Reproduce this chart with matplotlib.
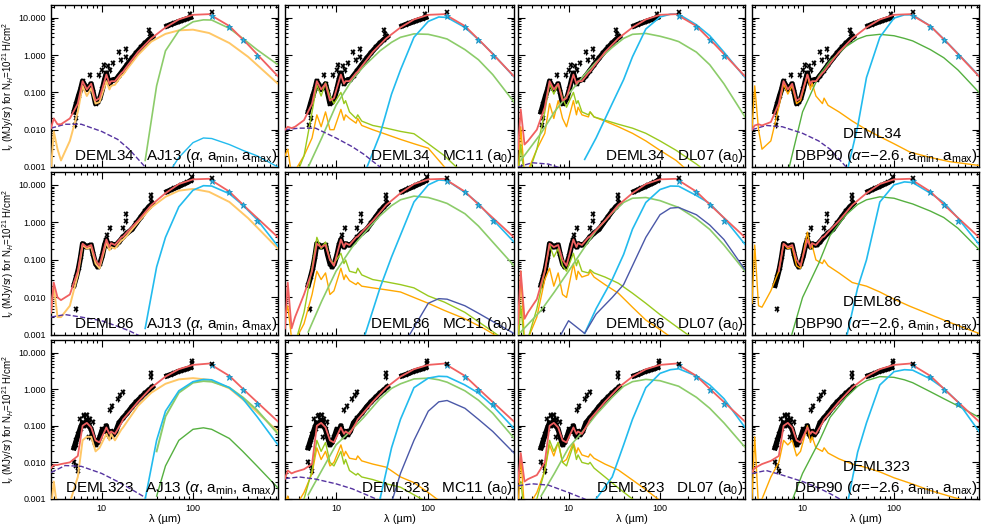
import numpy as np
import matplotlib
matplotlib.use('Agg')
import matplotlib.pyplot as plt
from matplotlib.ticker import LogLocator, NullFormatter

plt.rcParams['font.family'] = ['Liberation Sans', 'DejaVu Sans']
plt.rcParams['mathtext.fontset'] = 'custom'
plt.rcParams['mathtext.rm'] = 'Liberation Sans'
plt.rcParams['mathtext.it'] = 'Liberation Sans:italic'

nan = np.nan

# wavelength grids (micron)
LAM_MIR = [2.8, 3.0, 3.3, 3.6, 4.5, 5.5, 6.2, 6.9, 7.7, 8.6, 9.5, 11.3, 12.2, 12.7, 14, 16.5,
           17.2, 19, 25, 35, 50, 70, 100, 150, 250, 400, 850]
LAM_FIR = [3, 5, 7, 10, 15, 20, 30, 40, 50, 70, 100, 130, 160, 250, 350, 500, 850]
LAM_STAR = [2.8, 4, 6, 10, 15, 20, 30]
OBS_LAM = [5.0, 5.3, 5.6, 5.9, 6.2, 6.5, 6.9, 7.3, 7.7, 8.1, 8.6, 9.1, 9.6, 10.2, 10.8, 11.3, 11.8,
           12.3, 12.8, 13.5, 14.3, 15.5, 17, 19, 21.5, 24, 27, 30, 33, 36]
SED_LAM = [52, 57, 62, 68, 74, 80, 87, 94]
PHOT_LAM = [160, 250, 350, 500]

objects = ['DEML34', 'DEML86', 'DEML323']
models = ['AJ13', 'MC11', 'DL07', 'DBP90']

# ---------------- observations ----------------
obs1 = [0.03, 0.05, 0.08, 0.12, 0.2, 0.16, 0.12, 0.14, 0.17, 0.1, 0.05, 0.055, 0.07, 0.12, 0.22, 0.33,
        0.22, 0.17, 0.2, 0.22, 0.22, 0.28, 0.38, 0.55, 0.82, 1.15, 1.6, 2.1, 2.6, 3.1]
obs2 = [0.021, 0.035, 0.06, 0.12, 0.27, 0.25, 0.22, 0.24, 0.25, 0.14, 0.08, 0.065, 0.08, 0.13, 0.25,
        0.35, 0.25, 0.22, 0.27, 0.25, 0.25, 0.3, 0.4, 0.52, 0.65, 0.95, 1.4, 2.0, 2.6, 3.2]
obs3 = [0.025, 0.04, 0.06, 0.09, 0.12, 0.1, 0.14, 0.1, 0.08, 0.05, 0.03, 0.035, 0.05, 0.08, 0.07, 0.1,
        0.06, 0.05, 0.07, 0.057, 0.07, 0.12, 0.16, 0.22, 0.33, 0.45, 0.6, 0.78, 0.95, 1.15]
sed1 = [6.0, 6.6, 7.1, 7.7, 8.3, 8.9, 9.5, 10.2]
sed2 = [6.6, 7.3, 8.0, 8.8, 9.7, 10.6, 11.6, 13.0]
sed3 = [2.3, 2.5, 2.7, 3.0, 3.2, 3.4, 3.6, 3.9]
sc1_lam = [5.1, 5.3, 7.4, 9.3, 10.2, 10.6, 11.8, 12.4, 13.5, 15.4, 16.5, 18.3, 18.3, 33, 34, 93]
sc1 = [0.013, 0.02, 0.3, 0.3, 0.4, 0.55, 0.5, 0.4, 0.6, 1.24, 0.74, 1.5, 0.9, 4.6, 3.7, 13]
sc2_lam = [5.2, 11.5, 12.4, 17, 18.5, 18.5, 35, 35, 98]
sc2 = [0.005, 0.45, 0.69, 0.7, 1.7, 1.06, 5.4, 4.2, 16]
sc3_lam = [5.0, 5.2, 5.3, 5.5, 5.5, 5.8, 6.0, 6.4, 6.5, 7.0, 7.2, 7.5, 8.0, 12.3, 13, 15, 16, 17, 35, 35,
           97, 97]
sc3 = [0.01, 0.03, 0.008, 0.006, 0.06, 0.15, 0.08, 0.18, 0.2, 0.2, 0.05, 0.15, 0.13, 0.27, 0.35, 0.55,
       0.7, 0.82, 2.8, 2.2, 5.1, 6.0]
phot1 = [11.5, 5.7, 2.5, 0.97]
phot2 = [13, 6.3, 2.95, 1.1]
phot3 = [4.5, 2.1, 0.95, 0.4]
m160 = [14.0, 15.0, 5.0]

# ---------------- total model (red) ----------------
red_row1 = [0.2, 0.12, 0.17, 0.06, 0.07, 0.3, 0.17, 0.2, 0.2, 0.33, 0.36, 0.5, 1.2, 2.8, 5.5, 9.0, 12.0,
            12.5, 6.0, 1.9, 0.27]
red_row2 = [0.27, 0.22, 0.25, 0.1, 0.07, 0.35, 0.22, 0.28, 0.25, 0.4, 0.42, 0.55, 1.1, 2.9, 6.0, 10.5,
            14.0, 14.5, 6.6, 2.2, 0.4]
red_row3 = [0.1, 0.12, 0.09, 0.04, 0.035, 0.09, 0.06, 0.07, 0.06, 0.12, 0.15, 0.2, 0.45, 1.1, 2.2, 3.5,
            4.6, 5.0, 2.3, 0.75, 0.13]
red_left = {
    (0, 0): [0.011, 0.02, 0.014, 0.014, 0.02, 0.05],
    (0, 1): [0.010, 0.012, 0.011, 0.012, 0.018, 0.05],
    (0, 2): [0.003, 0.035, 0.004, 0.005, 0.01, 0.04],
    (0, 3): [0.01, 0.013, 0.014, 0.013, 0.016, 0.05],
    (1, 0): [0.004, 0.025, 0.01, 0.0085, 0.012, 0.05],
    (1, 1): [0.0015, 0.025, 0.0015, 0.003, 0.012, 0.05],
    (1, 2): [0.002, 0.05, 0.0027, 0.004, 0.009, 0.05],
    (1, 3): [nan, nan, nan, nan, nan, 0.05],
    (2, 0): [0.007, 0.0085, 0.0085, 0.009, 0.01, 0.015],
    (2, 1): [0.0036, 0.006, 0.005, 0.0055, 0.0065, 0.009],
    (2, 2): [0.0029, 0.018, 0.003, 0.0035, 0.0045, 0.01],
    (2, 3): [0.0055, 0.007, 0.008, 0.009, 0.011, 0.015],
}

# ---------------- small grains (orange, LAM_MIR) ----------------
org_11 = [0.0008, 0.009, 0.003, 0.0015, 0.005, 0.03, 0.15, 0.08, 0.13, 0.05, 0.055, 0.2, 0.12, 0.15, 0.16,
          0.28, 0.3, 0.42, 1.0, 2.3, 3.7, 4.6, 4.8, 3.9, 2.1, 0.9, 0.17]
org_12 = [0.002, 0.003, 0.0006, 0.0008, 0.002, 0.006, 0.025, 0.012, 0.03, 0.01, 0.01, 0.035, 0.018, 0.025,
          0.02, 0.015, 0.02, 0.013, 0.01, 0.0075, 0.0055, 0.0042, 0.0032, 0.001, 0.0003, nan, nan]
org_13 = [0.0005, 0.012, 0.0006, 0.0008, 0.003, 0.008, 0.05, 0.02, 0.06, 0.02, 0.012, 0.06, 0.025, 0.04,
          0.025, 0.022, 0.03, 0.022, 0.017, 0.012, 0.008, 0.005, 0.0028, 0.0015, 0.0005, nan, nan]
org_14 = [0.01, 0.15, 0.01, 0.003, 0.005, 0.04, 0.17, 0.09, 0.15, 0.05, 0.06, 0.3, 0.12, 0.18, 0.08, 0.05,
          0.07, 0.045, 0.03, 0.017, 0.01, 0.0065, 0.0042, 0.0025, 0.0018, 0.0014, 0.0011]
org_21 = [0.004, 0.02, 0.003, 0.003, 0.006, 0.04, 0.25, 0.2, 0.22, 0.08, 0.06, 0.3, 0.18, 0.22, 0.2, 0.33,
          0.35, 0.45, 1.0, 2.5, 4.8, 7.0, 7.8, 6.5, 3.5, 1.3, 0.2]
org_22 = [0.003, 0.006, 0.0008, 0.0007, 0.002, 0.012, 0.05, 0.03, 0.045, 0.012, 0.015, 0.06, 0.03, 0.04,
          0.028, 0.022, 0.025, 0.02, 0.018, 0.016, 0.014, 0.01, 0.007, 0.0045, 0.0027, 0.0015, 0.0005]
org_23 = [0.0005, 0.05, 0.0006, 0.0008, 0.003, 0.03, 0.06, 0.02, 0.045, 0.012, 0.01, 0.08, 0.03, 0.05,
          0.035, 0.04, 0.05, 0.035, 0.022, 0.013, 0.0055, 0.0025, 0.0014, 0.0007, nan, nan, nan]
org_24 = [0.007, 0.25, 0.006, 0.0055, 0.015, 0.05, 0.27, 0.2, 0.22, 0.07, 0.06, 0.55, 0.2, 0.25, 0.1, 0.08,
          0.1, 0.07, 0.045, 0.025, 0.02, 0.014, 0.009, 0.0058, 0.0035, 0.0022, 0.0011]
org_31 = [0.0005, 0.003, 0.0005, 0.0005, 0.0008, 0.004, 0.04, 0.05, 0.05, 0.02, 0.025, 0.06, 0.04, 0.06,
          0.04, 0.08, 0.09, 0.13, 0.35, 0.8, 1.4, 1.85, 2.0, 1.8, 1.05, 0.4, 0.07]
org_32 = [0.0008, 0.0012, 0.0005, 0.0006, 0.0015, 0.005, 0.025, 0.012, 0.02, 0.008, 0.01, 0.03, 0.015, 0.02,
          0.013, 0.012, 0.015, 0.011, 0.009, 0.0074, 0.004, 0.0028, 0.0015, 0.0007, nan, nan, nan]
org_33 = [0.0005, 0.015, 0.0005, 0.0006, 0.0015, 0.006, 0.03, 0.015, 0.035, 0.01, 0.012, 0.035, 0.018,
          0.025, 0.016, 0.014, 0.017, 0.013, 0.009, 0.0062, 0.0033, 0.0018, 0.0009, nan, nan, nan, nan]
org_34 = [0.001, 0.05, 0.0006, 0.001, 0.004, 0.01, 0.04, 0.03, 0.04, 0.015, 0.02, 0.1, 0.035, 0.05, 0.025,
          0.02, 0.025, 0.018, 0.0125, 0.009, 0.0072, 0.0055, 0.0038, 0.0027, 0.0017, 0.0012, 0.0007]

# ---------------- second small-grain component (yellow-green, LAM_MIR) ----------------
ygr_12 = [nan, 0.0004, 0.0005, 0.0005, 0.002, 0.03, 0.16, 0.08, 0.18, 0.08, 0.05, 0.1, 0.05, 0.06, 0.03,
          0.02, 0.025, 0.017, 0.013, 0.011, 0.009, 0.0078, 0.0042, 0.002, 0.0006, nan, nan]
ygr_13 = [0.0004, 0.004, 0.0005, 0.0006, 0.003, 0.03, 0.17, 0.09, 0.17, 0.07, 0.04, 0.1, 0.05, 0.06, 0.03,
          0.025, 0.03, 0.022, 0.018, 0.014, 0.011, 0.008, 0.005, 0.0028, 0.0012, 0.0005, nan]
ygr_22 = [0.0005, 0.0008, 0.0005, 0.0006, 0.004, 0.06, 0.4, 0.2, 0.3, 0.1, 0.08, 0.15, 0.08, 0.1, 0.05,
          0.045, 0.06, 0.04, 0.03, 0.026, 0.022, 0.018, 0.011, 0.0075, 0.004, 0.0018, 0.0005]
ygr_23 = [0.0005, 0.006, 0.0006, 0.0008, 0.005, 0.05, 0.25, 0.12, 0.2, 0.07, 0.05, 0.15, 0.07, 0.1, 0.05,
          0.045, 0.055, 0.045, 0.035, 0.024, 0.013, 0.007, 0.0035, 0.0017, 0.0007, nan, nan]
ygr_32 = [nan, 0.0004, 0.0004, 0.0005, 0.001, 0.006, 0.04, 0.02, 0.035, 0.01, 0.008, 0.02, 0.009, 0.012,
          0.006, 0.0045, 0.005, 0.004, 0.0034, 0.0026, 0.0021, 0.0013, 0.0008, nan, nan, nan, nan]
ygr_33 = [nan, 0.003, 0.0004, 0.0005, 0.001, 0.006, 0.04, 0.02, 0.035, 0.01, 0.008, 0.03, 0.012, 0.016,
          0.01, 0.009, 0.01, 0.007, 0.004, 0.002, 0.001, 0.0005, nan, nan, nan, nan, nan]

# ---------------- big grains (LAM_FIR) ----------------
grn_11 = [nan, nan, nan, nan, nan, nan, 0.0015, 0.15, 1.3, 4.5, 7.8, 8.8, 8.7, 5.2, 2.8, 1.4, 0.55]
grn_12 = [nan, 0.001, 0.006, 0.045, 0.22, 0.5, 1.3, 2.2, 3.0, 3.7, 3.6, 3.1, 2.7, 1.4, 0.75, 0.3, 0.055]
grn_13 = [0.0015, 0.008, 0.03, 0.09, 0.3, 0.65, 1.6, 2.8, 3.6, 3.8, 3.2, 2.7, 2.3, 1.2, 0.55, 0.17, 0.022]
grn_14 = [nan, nan, 0.0008, 0.03, 0.27, 0.7, 1.7, 2.7, 3.3, 3.6, 3.3, 2.8, 2.4, 1.4, 0.85, 0.4, 0.1]
grn_22 = [nan, 0.0012, 0.008, 0.05, 0.22, 0.5, 1.5, 2.8, 4.0, 5.0, 4.6, 3.8, 3.2, 1.7, 0.8, 0.3, 0.07]
grn_23 = [0.0012, 0.0045, 0.014, 0.05, 0.22, 0.6, 1.8, 3.4, 4.4, 4.6, 3.8, 3.0, 2.5, 1.25, 0.65, 0.25, 0.05]
grn_24 = [nan, nan, 0.0005, 0.01, 0.08, 0.45, 1.6, 3.0, 4.0, 4.8, 4.4, 3.6, 3.1, 2.0, 1.35, 0.7, 0.19]
grn_31 = [nan, nan, nan, nan, nan, nan, nan, 0.02, 0.18, 0.8, 1.5, 1.66, 1.6, 1.1, 0.6, 0.27, 0.06]
dgr_31 = [nan, nan, nan, nan, nan, nan, nan, 0.0012, 0.008, 0.04, 0.08, 0.088, 0.08, 0.045, 0.02, 0.008,
          0.002]
grn_32 = [nan, 0.0013, 0.006, 0.03, 0.08, 0.17, 0.55, 1.05, 1.4, 1.9, 2.0, 1.8, 1.55, 0.9, 0.5, 0.22, 0.046]
grn_33 = [nan, 0.0012, 0.005, 0.025, 0.08, 0.2, 0.6, 1.2, 1.6, 1.85, 1.7, 1.4, 1.2, 0.6, 0.3, 0.12, 0.026]
grn_34 = [nan, nan, 0.0005, 0.005, 0.035, 0.17, 0.6, 1.2, 1.7, 2.2, 2.1, 1.8, 1.5, 0.85, 0.55, 0.35, 0.17]

cyn_11 = [nan, nan, nan, nan, nan, nan, nan, nan, 0.0005, 0.0018, 0.0045, 0.006, 0.0058, 0.004, 0.0028,
          0.002, 0.001]
cyn_12 = [nan, nan, nan, nan, nan, 0.0006, 0.0075, 0.09, 0.4, 3.0, 8.0, 10.5, 10.2, 5.5, 2.6, 1.1, 0.26]
cyn_13 = [nan, nan, nan, nan, 0.0016, 0.006, 0.05, 0.22, 0.9, 5.0, 10.5, 12.5, 12.5, 6.5, 3.3, 1.2, 0.25]
cyn_14 = [nan, nan, nan, nan, nan, nan, 0.0006, 0.012, 0.25, 3.0, 9.8, 12, 12, 6.0, 2.7, 1.1, 0.28]
cyn_21 = [nan, nan, nan, nan, nan, nan, 0.0015, 0.065, 0.4, 2.6, 7.2, 9.5, 9.3, 5.8, 2.9, 1.2, 0.23]
cyn_22 = [nan, nan, nan, nan, nan, 0.0008, 0.018, 0.12, 0.46, 3.5, 10, 13.5, 13, 6.3, 3.2, 1.2, 0.3]
cyn_23 = [nan, nan, nan, nan, 0.0011, 0.005, 0.03, 0.14, 0.66, 3.4, 7.5, 9.3, 9.2, 5.2, 3.2, 1.3, 0.26]
cyn_24 = [nan, nan, nan, nan, nan, nan, 0.0008, 0.018, 0.1, 3.5, 10, 12, 11.5, 6.0, 3.4, 1.3, 0.26]
cyn_31 = [nan, nan, nan, nan, nan, nan, 0.001, 0.04, 0.25, 0.9, 1.6, 1.84, 1.8, 1.1, 0.55, 0.18, 0.03]
cyn_32 = [nan, nan, nan, nan, nan, nan, 0.001, 0.025, 0.15, 1.1, 2.0, 2.25, 2.2, 1.3, 0.78, 0.35, 0.085]
cyn_33 = [nan, nan, nan, nan, nan, 0.001, 0.004, 0.03, 0.15, 1.1, 2.7, 3.4, 3.6, 2.3, 1.3, 0.55, 0.09]
cyn_34 = [nan, nan, nan, nan, nan, nan, 0.0005, 0.019, 0.12, 1.3, 3.0, 3.4, 3.3, 1.9, 1.05, 0.45, 0.07]

blu_22 = [nan, nan, nan, nan, nan, nan, nan, nan, 0.0004, 0.0016, 0.007, 0.0093, 0.009, 0.006, 0.0038,
          0.0023, 0.0011]
blu_23 = [nan, nan, 0.0005, 0.0024, 0.0011, 0.0036, 0.01, 0.022, 0.07, 0.4, 1.6, 2.4, 2.5, 1.6, 0.85, 0.35,
          0.055]
blu_32 = [nan, nan, nan, nan, nan, nan, nan, 0.0008, 0.005, 0.04, 0.25, 0.45, 0.49, 0.3, 0.15, 0.07, 0.018]

# ---------------- stellar (purple dashed, LAM_STAR) ----------------
pur_11 = [0.011, 0.014, 0.014, 0.009, 0.0055, 0.003, 0.001]
pur_12 = [0.01, 0.011, 0.011, 0.006, 0.0035, 0.0022, 0.001]
pur_13 = [0.001, 0.0013, 0.0012, 0.0008, 0.0005, nan, nan]
pur_14 = [0.01, 0.013, 0.012, 0.008, 0.005, 0.003, 0.001]
pur_21 = [0.003, 0.0035, 0.003, 0.0024, 0.0017, 0.0013, 0.0008]
pur_31 = [0.0053, 0.0082, 0.0078, 0.005, 0.003, 0.002, 0.0011]
pur_32 = [0.0036, 0.004, 0.0035, 0.0026, 0.0019, 0.0014, 0.0009]
pur_33 = [0.0023, 0.0026, 0.0024, 0.0015, 0.001, 0.0007, nan]
pur_34 = [0.005, 0.006, 0.0045, 0.003, 0.002, 0.0014, 0.0008]

ORANGE = '#ffa800'
ORANGE_L = '#ffc766'
GREEN = '#8ccc6a'
GREEN_D = '#55b040'
CYAN = '#22bbee'
YGREEN = '#99c91e'
BLUE = '#4a58a8'
PURPLE = '#5533a0'
RED = '#f06060'

rows = [
    dict(obs=obs1, sed=sed1, sc_lam=sc1_lam, sc=sc1, phot=phot1, red=red_row1),
    dict(obs=obs2, sed=sed2, sc_lam=sc2_lam, sc=sc2, phot=phot2, red=red_row2),
    dict(obs=obs3, sed=sed3, sc_lam=sc3_lam, sc=sc3, phot=phot3, red=red_row3),
]

# which curves in which panel: (lam grid, values, colour, lw, style)
curves = {
    (0, 0): [(LAM_MIR, org_11, ORANGE_L, 1.4, '-'), (LAM_FIR, grn_11, GREEN, 1.2, '-'),
             (LAM_FIR, cyn_11, CYAN, 1.0, '-'), (LAM_STAR, pur_11, PURPLE, 1.0, '--')],
    (0, 1): [(LAM_MIR, org_12, ORANGE, 1.0, '-'), (LAM_MIR, ygr_12, YGREEN, 1.0, '-'),
             (LAM_FIR, grn_12, GREEN, 1.2, '-'), (LAM_FIR, cyn_12, CYAN, 1.2, '-'),
             (LAM_STAR, pur_12, PURPLE, 1.0, '--')],
    (0, 2): [(LAM_MIR, org_13, ORANGE, 1.0, '-'), (LAM_MIR, ygr_13, YGREEN, 1.0, '-'),
             (LAM_FIR, grn_13, GREEN, 1.2, '-'), (LAM_FIR, cyn_13, CYAN, 1.2, '-'),
             (LAM_STAR, pur_13, PURPLE, 1.0, '--')],
    (0, 3): [(LAM_MIR, org_14, ORANGE, 1.0, '-'), (LAM_FIR, grn_14, GREEN_D, 1.0, '-'),
             (LAM_FIR, cyn_14, CYAN, 1.2, '-'), (LAM_STAR, pur_14, PURPLE, 1.0, '--')],
    (1, 0): [(LAM_MIR, org_21, ORANGE_L, 1.4, '-'), (LAM_FIR, cyn_21, CYAN, 1.2, '-'),
             (LAM_STAR, pur_21, PURPLE, 1.0, '--')],
    (1, 1): [(LAM_MIR, org_22, ORANGE, 1.0, '-'), (LAM_MIR, ygr_22, YGREEN, 1.0, '-'),
             (LAM_FIR, grn_22, GREEN, 1.2, '-'), (LAM_FIR, cyn_22, CYAN, 1.2, '-'),
             (LAM_FIR, blu_22, BLUE, 1.0, '-')],
    (1, 2): [(LAM_MIR, org_23, ORANGE, 1.0, '-'), (LAM_MIR, ygr_23, YGREEN, 1.0, '-'),
             (LAM_FIR, grn_23, GREEN, 1.2, '-'), (LAM_FIR, cyn_23, CYAN, 1.2, '-'),
             (LAM_FIR, blu_23, BLUE, 1.0, '-')],
    (1, 3): [(LAM_MIR, org_24, ORANGE, 1.0, '-'), (LAM_FIR, grn_24, GREEN_D, 1.0, '-'),
             (LAM_FIR, cyn_24, CYAN, 1.2, '-')],
    (2, 0): [(LAM_MIR, org_31, ORANGE_L, 1.4, '-'), (LAM_FIR, grn_31, GREEN, 1.4, '-'),
             (LAM_FIR, cyn_31, CYAN, 1.2, '-'), (LAM_FIR, dgr_31, GREEN_D, 1.0, '-'),
             (LAM_STAR, pur_31, PURPLE, 1.0, '--')],
    (2, 1): [(LAM_MIR, org_32, ORANGE, 1.0, '-'), (LAM_MIR, ygr_32, YGREEN, 1.0, '-'),
             (LAM_FIR, grn_32, GREEN, 1.2, '-'), (LAM_FIR, cyn_32, CYAN, 1.2, '-'),
             (LAM_FIR, blu_32, BLUE, 1.0, '-'), (LAM_STAR, pur_32, PURPLE, 1.0, '--')],
    (2, 2): [(LAM_MIR, org_33, ORANGE, 1.0, '-'), (LAM_MIR, ygr_33, YGREEN, 1.0, '-'),
             (LAM_FIR, grn_33, GREEN, 1.2, '-'), (LAM_FIR, cyn_33, CYAN, 1.2, '-'),
             (LAM_STAR, pur_33, PURPLE, 1.0, '--')],
    (2, 3): [(LAM_MIR, org_34, ORANGE, 1.0, '-'), (LAM_FIR, grn_34, GREEN_D, 1.0, '-'),
             (LAM_FIR, cyn_34, CYAN, 1.2, '-'), (LAM_STAR, pur_34, PURPLE, 1.0, '--')],
}

labels = [r'AJ13 ($\alpha$, a$_{\rm min}$, a$_{\rm max}$)', r'MC11 (a$_0$)', r'DL07 (a$_0$)',
          r'DBP90 ($\alpha$=$-$2.6, a$_{\rm min}$, a$_{\rm max}$)']

W, H = 981, 529
cols_px = [(51, 278), (285, 514), (518, 745), (752, 979)]
rows_px = [(5, 167), (172, 335), (340, 499)]

fig = plt.figure(figsize=(W / 100, H / 100), dpi=100)

for r in range(3):
    d = rows[r]
    for c in range(4):
        x0, x1 = cols_px[c]
        y0, y1 = rows_px[r]
        ax = fig.add_axes([x0 / W, 1 - y1 / H, (x1 - x0) / W, (y1 - y0) / H])
        ax.set_xscale('log')
        ax.set_yscale('log')

        # observations
        ax.plot(OBS_LAM, d['obs'], color='k', lw=3.8, zorder=2)
        ax.plot(OBS_LAM, d['obs'], 'x', color='k', ms=3.5, mew=1.1, zorder=2)
        ax.plot(SED_LAM, d['sed'], color='k', lw=3.8, zorder=2)
        ax.plot(SED_LAM, d['sed'], 'x', color='k', ms=3.5, mew=1.1, zorder=2)
        ax.plot(d['sc_lam'], d['sc'], 'x', color='k', ms=3, mew=1.2, zorder=2)
        ax.plot(d['sc_lam'], d['sc'], '|', color='k', ms=5, mew=0.9, zorder=2)

        # models
        for lam, val, col, lw, ls in curves[(r, c)]:
            ax.plot(lam, val, color=col, lw=lw, ls=ls, zorder=3)
        red = red_left[(r, c)] + d['red']
        ax.plot(LAM_MIR, red, color=RED, lw=1.3, zorder=4)

        # photometry
        ax.plot(PHOT_LAM, d['phot'], '*', color=CYAN, ms=4.5, mec='#1a90c0', mew=0.6, zorder=5)
        ax.plot([160], [m160[r]], 'x', color='k', ms=3, mew=1.2, zorder=5)

        ax.set_xlim(2.8, 850)
        ax.set_ylim(0.001, 22)

        ax.tick_params(which='both', direction='in', top=True, right=True, width=0.8)
        ax.tick_params(which='major', length=5)
        ax.tick_params(which='minor', length=2.5)
        ax.set_yticks([0.001, 0.01, 0.1, 1, 10])
        ax.yaxis.set_minor_locator(LogLocator(base=10, subs=np.arange(2, 10)))
        ax.yaxis.set_minor_formatter(NullFormatter())
        ax.set_xticks([10, 100])
        ax.xaxis.set_minor_locator(LogLocator(base=10, subs=np.arange(2, 10)))
        ax.xaxis.set_minor_formatter(NullFormatter())
        if c == 0:
            ax.set_yticklabels(['0.001', '0.010', '0.100', '1.000', '10.000'], fontsize=6.5)
            ax.set_ylabel(r'I$_\nu$ (MJy/sr) for N$_H$=10$^{21}$ H/cm$^2$', fontsize=7, labelpad=2)
        else:
            ax.set_yticklabels([])
        if r == 2:
            ax.set_xticklabels(['10', '100'], fontsize=6.5)
            ax.set_xlabel('λ (µm)', fontsize=8, labelpad=1)
        else:
            ax.set_xticklabels([])
        for s in ax.spines.values():
            s.set_linewidth(1.0)

        if c < 3:
            ax.text(0.995, 0.015, objects[r] + '   ' + labels[c], transform=ax.transAxes,
                    ha='right', va='bottom', fontsize=11, zorder=6)
        else:
            ax.text(0.40, 0.16, objects[r], transform=ax.transAxes,
                    ha='left', va='bottom', fontsize=11, zorder=6)
            ax.text(0.995, 0.015, labels[c], transform=ax.transAxes,
                    ha='right', va='bottom', fontsize=11, zorder=6)

fig.savefig('out.png', dpi=100)
